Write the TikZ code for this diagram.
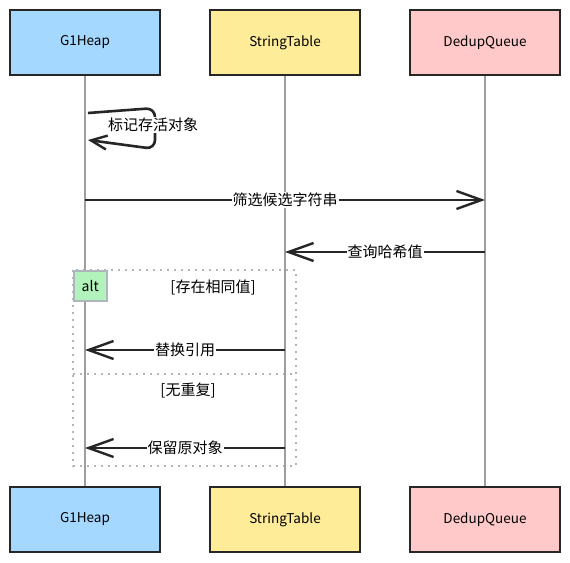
\documentclass[tikz,border=0pt]{standalone}
\usepackage{fontspec}
\setmainfont{Noto Sans CJK SC}
\usetikzlibrary{arrows.meta,positioning,calc}
\definecolor{heapblue}{HTML}{A5D8FF}
\definecolor{tableyellow}{HTML}{FFEC99}
\definecolor{queuered}{HTML}{FFC9C9}
\definecolor{altgreen}{HTML}{B2F2BB}
\definecolor{lifegray}{HTML}{9E9E9E}
\definecolor{framegray}{HTML}{ADB5BD}

\tikzset{
  actor/.style={draw=black!85, line width=2.4pt, minimum width=150pt, minimum height=65pt,
    inner sep=0pt, font=\fontsize{13.5}{15}\selectfont},
  lifeline/.style={draw=lifegray, line width=1.2pt},
  msg/.style={draw=black!85, line width=2.6pt, -{Straight Barb[length=25pt,width=18pt,line width=2.4pt]}},
  selfmsg/.style={draw=black!85, line width=2.6pt, rounded corners=9pt, -{Straight Barb[length=16pt,width=14pt,line width=2.4pt]}},
  msglabel/.style={fill=white, inner sep=1pt, font=\fontsize{15}{17}\selectfont},
  altframe/.style={draw=framegray, line width=2pt, dash pattern=on 2pt off 5pt},
  alttag/.style={draw=framegray, fill=altgreen, line width=1.6pt, minimum width=33pt,
    minimum height=30pt, inner sep=0pt, font=\fontsize{14}{15}\selectfont},
  condlabel/.style={inner sep=1pt, font=\fontsize{15}{17}\selectfont},
}

\begin{document}
\begin{tikzpicture}[x=1pt,y=-1pt]
  \useasboundingbox[fill=white] (0,0) rectangle (570,562);

  % alt fragment
  \draw[altframe] (73,270) rectangle (296,466);
  \draw[altframe] (73,374) -- (296,374);

  % participants
  \node[actor, fill=heapblue] (heapTop) at (85,42.5) {G1Heap};
  \node[actor, fill=tableyellow] (tableTop) at (285,42.5) {StringTable};
  \node[actor, fill=queuered] (queueTop) at (485,42.5) {DedupQueue};
  \node[actor, fill=heapblue] (heapBot) at (85,519.5) {G1Heap};
  \node[actor, fill=tableyellow] (tableBot) at (285,519.5) {StringTable};
  \node[actor, fill=queuered] (queueBot) at (485,519.5) {DedupQueue};

  % lifelines
  \draw[lifeline] (heapTop) -- (heapBot);
  \draw[lifeline] (tableTop) -- (tableBot);
  \draw[lifeline] (queueTop) -- (queueBot);

  \node[alttag, anchor=north west] (altTag) at (73,270) {alt};
  \node[condlabel] (condSame) at (213,287) {[存在相同值]};
  \node[condlabel] (condNone) at (188,390) {[无重复]};

  % message end points on the lifelines
  \coordinate (selfOut) at ($(heapTop |- 0,113)+(3,0)$);
  \coordinate (selfIn) at ($(heapTop |- 0,140)+(3,0)$);
  \coordinate (filterFrom) at (heapTop |- 0,200);
  \coordinate (filterTo) at (queueTop |- 0,200);
  \coordinate (hashFrom) at (queueTop |- 0,252);
  \coordinate (hashTo) at (tableTop |- 0,252);
  \coordinate (replFrom) at (tableTop |- 0,350);
  \coordinate (replTo) at (heapTop |- 0,350);
  \coordinate (keepFrom) at (tableTop |- 0,448);
  \coordinate (keepTo) at (heapTop |- 0,448);

  % messages
  \draw[selfmsg] (selfOut) -- (155,108) -- (155,149) -- (selfIn);
  \node[msglabel] (markLabel) at (153,125) {标记存活对象};
  \draw[msg] (filterFrom) -- node[msglabel] (filterLabel) {筛选候选字符串} (filterTo);
  \draw[msg] (hashFrom) -- node[msglabel] (hashLabel) {查询哈希值} (hashTo);
  \draw[msg] (replFrom) -- node[msglabel] (replLabel) {替换引用} (replTo);
  \draw[msg] (keepFrom) -- node[msglabel] (keepLabel) {保留原对象} (keepTo);
\end{tikzpicture}
\end{document}
